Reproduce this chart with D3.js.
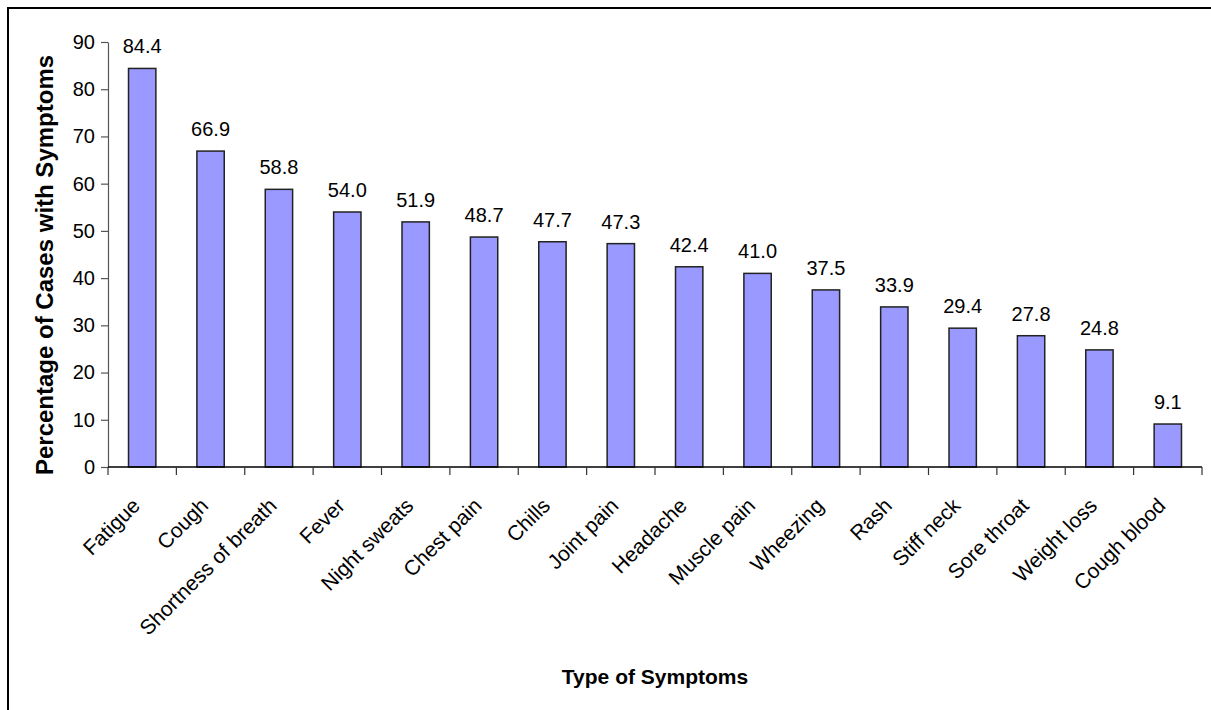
<!DOCTYPE html>
<html>
<head>
<meta charset="utf-8">
<script src="https://cdn.jsdelivr.net/npm/d3@7"></script>
<style>
  html, body { margin: 0; padding: 0; background: #fff; }
  svg { display: block; font-family: "Liberation Sans", Arial, sans-serif; }
</style>
</head>
<body>
<svg id="chart" width="1211" height="710"></svg>
<script>
// Symptom categories and the share of cases reporting each one (%)
const symptoms = ["Fatigue", "Cough", "Shortness of breath", "Fever", "Night sweats",
  "Chest pain", "Chills", "Joint pain", "Headache", "Muscle pain", "Wheezing",
  "Rash", "Stiff neck", "Sore throat", "Weight loss", "Cough blood"];
const percentages = [84.4, 66.9, 58.8, 54.0, 51.9, 48.7, 47.7, 47.3, 42.4, 41.0,
  37.5, 33.9, 29.4, 27.8, 24.8, 9.1];
const yTicks = [0, 10, 20, 30, 40, 50, 60, 70, 80, 90];
const xTitle = "Type of Symptoms";
const yTitle = "Percentage of Cases with Symptoms";

const svg = d3.select("#chart");
const W = 1211, H = 710;
const plot = { left: 108, right: 1202, top: 42, bottom: 467 };

// outer frame
svg.append("rect")
  .attr("x", 8).attr("y", 8)
  .attr("width", W).attr("height", H)
  .attr("fill", "none").attr("stroke", "#000").attr("stroke-width", 2);

const x = d3.scaleBand()
  .domain(symptoms)
  .range([plot.left, plot.right])
  .paddingInner(0.6).paddingOuter(0.3);

const y = d3.scaleLinear().domain([0, 90]).range([plot.bottom, plot.top]);

// bars
svg.append("g").selectAll("rect")
  .data(symptoms)
  .join("rect")
  .attr("x", d => x(d))
  .attr("width", x.bandwidth())
  .attr("y", (d, i) => y(percentages[i]))
  .attr("height", (d, i) => y(0) - y(percentages[i]))
  .attr("fill", "#9999FF")
  .attr("stroke", "#222")
  .attr("stroke-width", 1.5);

// value labels
svg.append("g").selectAll("text")
  .data(symptoms)
  .join("text")
  .attr("x", d => x(d) + x.bandwidth() / 2)
  .attr("y", (d, i) => y(percentages[i]) - 15)
  .attr("text-anchor", "middle")
  .attr("font-size", 20)
  .attr("fill", "#000")
  .text((d, i) => percentages[i].toFixed(1));

// y axis
const yAxis = svg.append("g")
  .attr("transform", `translate(${plot.left},0)`)
  .call(d3.axisLeft(y).tickValues(yTicks).tickSize(7).tickPadding(6).tickSizeOuter(0));
yAxis.select(".domain").attr("stroke", "#555").attr("stroke-width", 1.2);
yAxis.selectAll(".tick line").attr("stroke", "#555").attr("stroke-width", 1.2);
yAxis.selectAll(".tick text").attr("font-size", 20).attr("fill", "#000")
  .attr("font-family", "Liberation Sans, Arial, sans-serif");

// x axis: ticks sit on the category boundaries
const boundaries = d3.range(symptoms.length + 1)
  .map(i => plot.left + i * (plot.right - plot.left) / symptoms.length);
const xg = svg.append("g");
xg.append("line")
  .attr("x1", plot.left).attr("x2", plot.right)
  .attr("y1", plot.bottom).attr("y2", plot.bottom)
  .attr("stroke", "#000").attr("stroke-width", 1.5);
xg.selectAll("line.tick")
  .data(boundaries)
  .join("line")
  .attr("class", "tick")
  .attr("x1", d => d).attr("x2", d => d)
  .attr("y1", plot.bottom).attr("y2", plot.bottom + 8)
  .attr("stroke", "#333").attr("stroke-width", 1.2);

// rotated category labels
xg.selectAll("text")
  .data(symptoms)
  .join("text")
  .attr("transform", d => `translate(${x(d) + x.bandwidth() / 2 - 1},${plot.bottom + 40}) rotate(-45)`)
  .attr("text-anchor", "end")
  .attr("font-size", 21)
  .attr("fill", "#000")
  .text(d => d);

// axis titles
svg.append("text")
  .attr("x", (plot.left + plot.right) / 2)
  .attr("y", 684)
  .attr("text-anchor", "middle")
  .attr("font-size", 21)
  .attr("font-weight", "bold")
  .text(xTitle);

svg.append("text")
  .attr("transform", "translate(53,265) rotate(-90)")
  .attr("text-anchor", "middle")
  .attr("font-size", 24)
  .attr("font-weight", "bold")
  .text(yTitle);
</script>
</body>
</html>
